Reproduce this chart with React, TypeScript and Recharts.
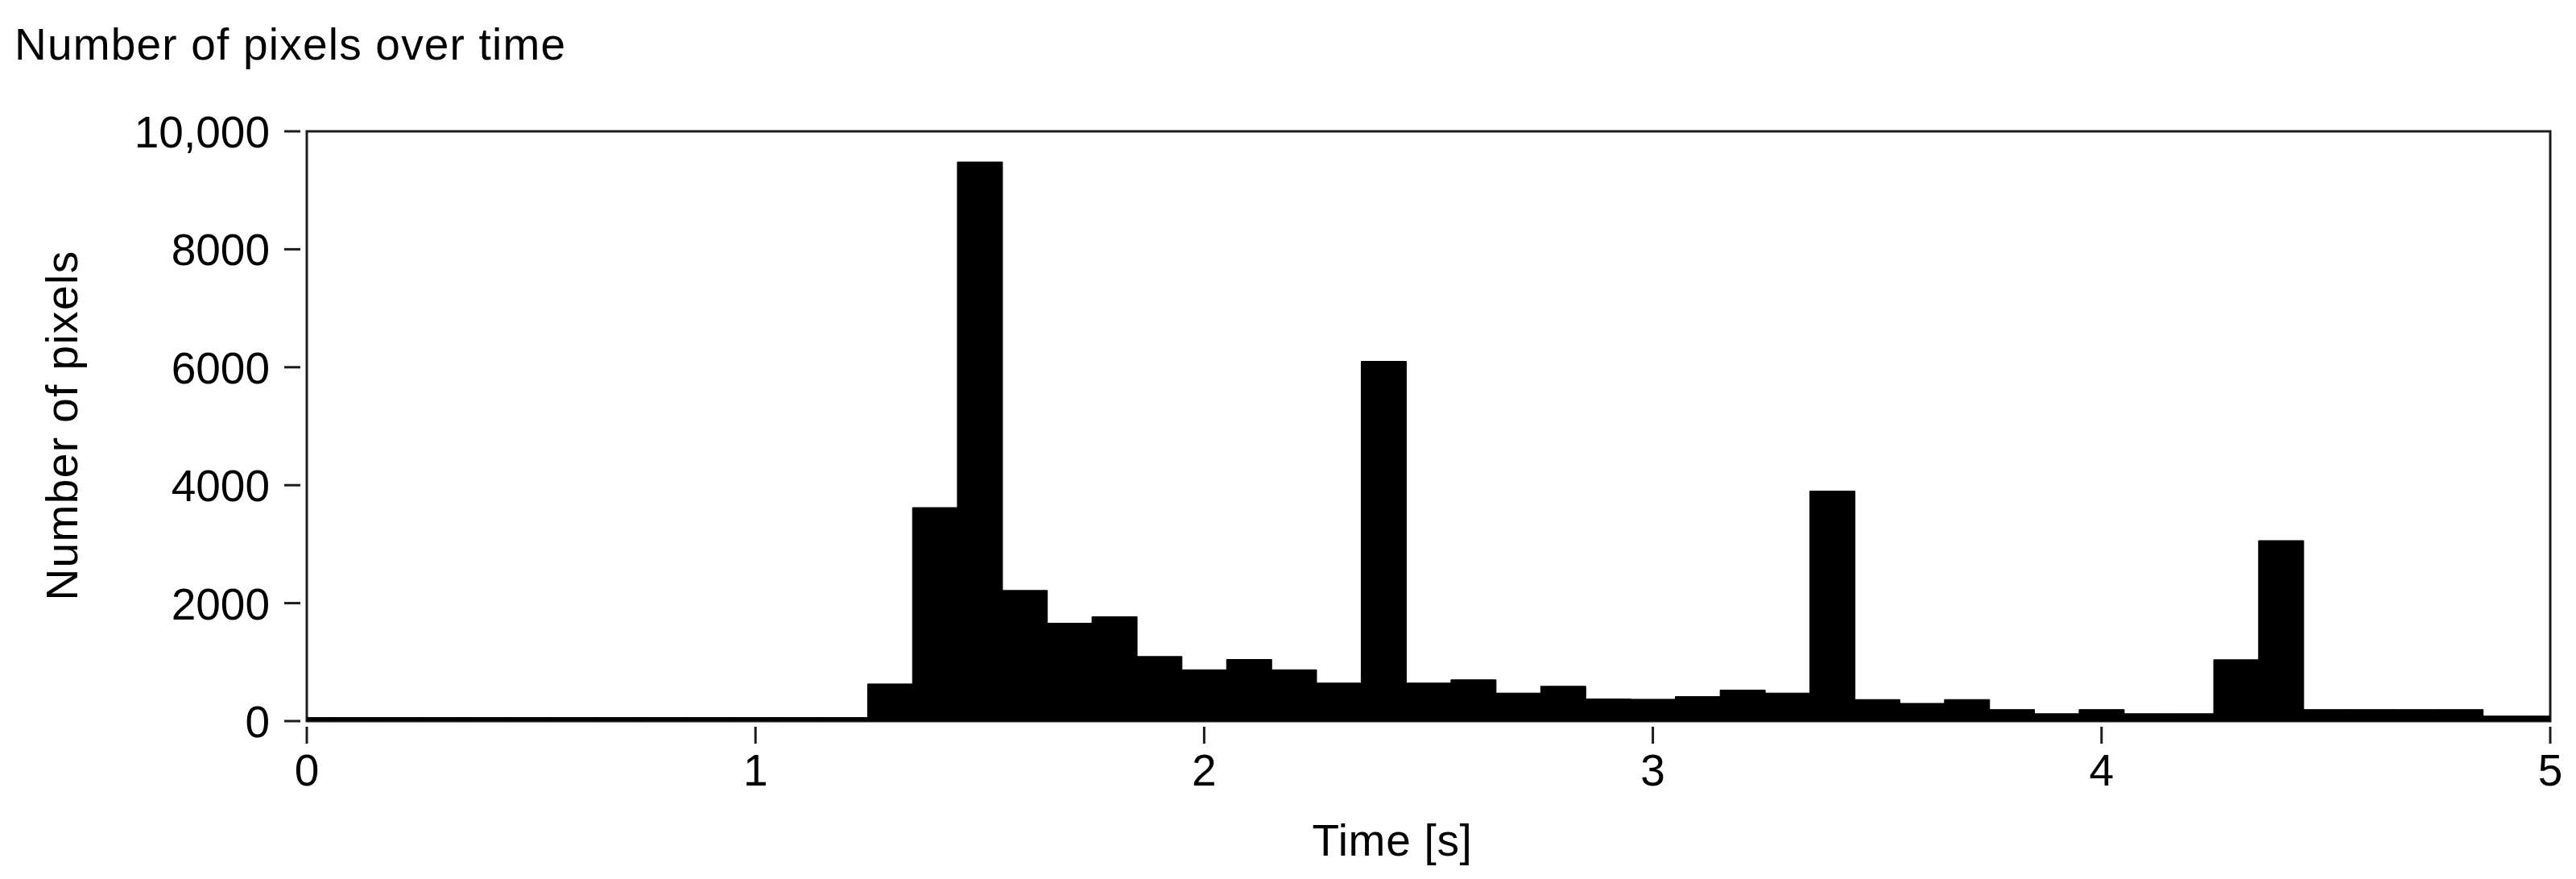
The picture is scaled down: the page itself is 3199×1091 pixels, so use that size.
import React from "react";
import { BarChart, Bar, XAxis, YAxis, ReferenceArea, Label } from "recharts";

// bin centres [s], 0.1 s wide
const binTimes = [
  0.0, 0.1, 0.2, 0.3, 0.4, 0.5, 0.6, 0.7, 0.8, 0.9,
  1.0, 1.1, 1.2, 1.3, 1.4, 1.5, 1.6, 1.7, 1.8, 1.9,
  2.0, 2.1, 2.2, 2.3, 2.4, 2.5, 2.6, 2.7, 2.8, 2.9,
  3.0, 3.1, 3.2, 3.3, 3.4, 3.5, 3.6, 3.7, 3.8, 3.9,
  4.0, 4.1, 4.2, 4.3, 4.4, 4.5, 4.6, 4.7, 4.8, 4.9,
  5.0
];

// number of pixels per bin
const pixelCounts = [
  60, 60, 60, 60, 60, 60, 60, 60, 60, 60,
  60, 60, 60, 630, 3620, 9480, 2215, 1660, 1770, 1095,
  870, 1045, 870, 645, 6100, 645, 700, 475, 590, 375,
  370, 415, 525, 475, 3900, 365, 300, 365, 195, 125,
  195, 125, 125, 1040, 3060, 195, 195, 195, 195, 85,
  85
];

const xTicks = [0, 1, 2, 3, 4, 5];
const xTickLabels = ["0", "1", "2", "3", "4", "5"];
const yTicks = [0, 2000, 4000, 6000, 8000, 10000];
const yTickLabels = ["0", "2000", "4000", "6000", "8000", "10,000"];

const FONT = '"Liberation Sans", Arial, Helvetica, sans-serif';
const INK = "#1c1c1c";
const FONT_SIZE = 55;

const data = binTimes.map((t, i) => ({ time: t, pixels: pixelCounts[i] }));

const XTick = (props: any) => {
  const { x, y, payload } = props;
  const idx = xTicks.indexOf(payload.value);
  return (
    <g>
      <line x1={x} x2={x} y1={y + 7} y2={y + 28} stroke={INK} strokeWidth={3} />
      <text x={x} y={y + 80} textAnchor="middle" fill="#000" fontFamily={FONT} fontSize={FONT_SIZE}>
        {idx >= 0 ? xTickLabels[idx] : payload.value}
      </text>
    </g>
  );
};

const YTick = (props: any) => {
  const { x, y, payload } = props;
  const idx = yTicks.indexOf(payload.value);
  return (
    <g>
      <line x1={x - 28} x2={x - 8} y1={y} y2={y} stroke={INK} strokeWidth={3} />
      <text x={x - 46} y={y + 20} textAnchor="end" fill="#000" fontFamily={FONT} fontSize={FONT_SIZE}>
        {idx >= 0 ? yTickLabels[idx] : payload.value}
      </text>
    </g>
  );
};

const App: React.FC = () => {
  return (
    <div style={{ position: "absolute", left: 0, top: 0, width: 3199, height: 1091, background: "#fff" }}>
      <div
        style={{
          position: "absolute",
          left: 18,
          top: 28,
          fontFamily: FONT,
          fontSize: FONT_SIZE,
          lineHeight: `${FONT_SIZE}px`,
          letterSpacing: "1.2px",
          color: "#000",
          whiteSpace: "nowrap"
        }}
      >
        Number of pixels over time
      </div>

      <BarChart
        width={3199}
        height={1091}
        data={data}
        margin={{ top: 163, right: 32, left: 0, bottom: 76 }}
        barCategoryGap={0}
        barGap={0}
      >
        <XAxis
          dataKey="time"
          type="number"
          domain={[0, 5]}
          ticks={xTicks}
          interval={0}
          allowDataOverflow
          axisLine={false}
          tickLine={false}
          tickSize={0}
          tickMargin={0}
          height={120}
          tick={XTick}
        >
          <Label
            content={(p: any) => {
              const vb = p.viewBox;
              return (
                <text
                  x={vb.x + vb.width / 2 - 45}
                  y={vb.y + 167}
                  textAnchor="middle"
                  fill="#000"
                  fontFamily={FONT}
                  fontSize={FONT_SIZE}
                  style={{ letterSpacing: "0.7px" }}
                >
                  Time [s]
                </text>
              );
            }}
          />
        </XAxis>
        <YAxis
          type="number"
          domain={[0, 10000]}
          ticks={yTicks}
          interval={0}
          allowDataOverflow
          axisLine={false}
          tickLine={false}
          tickSize={0}
          tickMargin={0}
          width={381}
          tick={YTick}
        >
          <Label
            content={(p: any) => {
              const vb = p.viewBox;
              const cy = vb.y + vb.height / 2 - 1;
              return (
                <text
                  x={96}
                  y={cy}
                  transform={`rotate(-90 96 ${cy})`}
                  textAnchor="middle"
                  fill="#000"
                  fontFamily={FONT}
                  fontSize={FONT_SIZE}
                  style={{ letterSpacing: "1.4px" }}
                >
                  Number of pixels
                </text>
              );
            }}
          />
        </YAxis>

        <Bar dataKey="pixels" fill="#000" stroke="#000" strokeWidth={1} isAnimationActive={false} />

        <ReferenceArea x1={0} x2={5} y1={0} y2={10000} fill="none" stroke={INK} strokeWidth={3} />
      </BarChart>
    </div>
  );
};

export default App;
